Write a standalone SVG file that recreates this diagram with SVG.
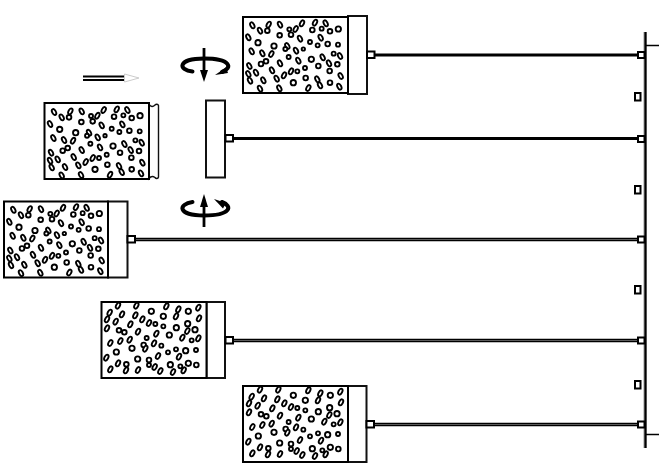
<svg xmlns="http://www.w3.org/2000/svg" width="659" height="472" viewBox="0 0 659 472">
<style>
.box{fill:#fff;stroke:#000;stroke-width:2}
.cap{fill:#fff;stroke:#111;stroke-width:2}
.sq{fill:#fff;stroke:#000;stroke-width:2}
.rod{stroke:#000;stroke-width:3.2;fill:none}
.rod2{stroke:#000;stroke-width:3.4;fill:none}
.rodc{stroke:#999;stroke-width:.6;fill:none}
.thin{stroke:#000;stroke-width:1.5;fill:none}
.pt{fill:#fff;stroke:#000;stroke-width:5.600}
.rot{fill:none;stroke:#000;stroke-width:4;stroke-linecap:round}
</style>
<defs>
<ellipse id="e" class="pt" rx="5.500" ry="9.500" transform="rotate(-28)"/>
<ellipse id="f" class="pt" rx="5.500" ry="9.500" transform="rotate(28)"/>
<g id="pa" transform="scale(.33333)">
<use href="#e" x="757" y="76"/><use href="#e" x="780" y="92"/><circle class="pt" cx="802" cy="92" r="7"/><use href="#f" x="806" y="74"/><use href="#e" x="840" y="74"/><circle class="pt" cx="868" cy="88" r="6"/><circle class="pt" cx="873" cy="104" r="7"/><use href="#f" x="887" y="87"/><use href="#f" x="906" y="70"/><use href="#f" x="945" y="68"/><use href="#e" x="977" y="70"/><circle class="pt" cx="937" cy="90" r="7"/><circle class="pt" cx="965" cy="86" r="6"/><circle class="pt" cx="990" cy="94" r="7"/><circle class="pt" cx="1015" cy="87" r="8"/><circle class="pt" cx="839" cy="106" r="7"/><use href="#e" x="745" y="112"/><circle class="pt" cx="774" cy="128" r="8"/><use href="#e" x="900" y="116"/><use href="#e" x="962" y="113"/><circle class="pt" cx="930" cy="126" r="6"/><circle class="pt" cx="953" cy="136" r="6"/><circle class="pt" cx="983" cy="132" r="7"/><circle class="pt" cx="1014" cy="134" r="6"/><circle class="pt" cx="822" cy="138" r="8"/><use href="#e" x="862" y="138"/><circle class="pt" cx="856" cy="147" r="6"/><use href="#e" x="888" y="152"/><circle class="pt" cx="910" cy="147" r="5"/><use href="#e" x="755" y="154"/><use href="#e" x="787" y="160"/><use href="#f" x="814" y="162"/><circle class="pt" cx="866" cy="171" r="6"/><use href="#e" x="895" y="182"/><circle class="pt" cx="934" cy="178" r="8"/><use href="#e" x="968" y="172"/><use href="#e" x="987" y="190"/><circle class="pt" cx="1001" cy="161" r="6"/><use href="#e" x="1020" y="168"/><circle class="pt" cx="1012" cy="193" r="7"/><circle class="pt" cx="798" cy="184" r="7"/><circle class="pt" cx="783" cy="192" r="7"/><use href="#e" x="840" y="190"/><circle class="pt" cx="955" cy="198" r="7"/><use href="#e" x="748" y="198"/><circle class="pt" cx="915" cy="204" r="6"/><use href="#e" x="816" y="211"/><use href="#e" x="768" y="218"/><use href="#e" x="745" y="222"/><use href="#e" x="750" y="242"/><use href="#e" x="790" y="241"/><use href="#e" x="830" y="236"/><use href="#f" x="852" y="226"/><use href="#f" x="873" y="214"/><circle class="pt" cx="892" cy="214" r="6"/><circle class="pt" cx="989" cy="213" r="7"/><use href="#e" x="1022" y="228"/><circle class="pt" cx="917" cy="234" r="7"/><use href="#e" x="952" y="238"/><use href="#e" x="960" y="256"/><circle class="pt" cx="990" cy="248" r="7"/><circle class="pt" cx="880" cy="248" r="8"/><use href="#e" x="1018" y="260"/><use href="#f" x="925" y="264"/><use href="#e" x="780" y="266"/><use href="#e" x="838" y="265"/>
</g>
<g id="pb" transform="translate(235,375) scale(.33333)">
<use href="#f" x="75" y="44"/><use href="#f" x="130" y="44"/><use href="#f" x="50" y="65"/><use href="#f" x="42" y="85"/><use href="#f" x="68" y="92"/><use href="#f" x="87" y="70"/><use href="#f" x="42" y="112"/><circle class="pt" cx="78" cy="118" r="7"/><circle class="pt" cx="94" cy="124" r="7"/><use href="#f" x="112" y="100"/><use href="#f" x="127" y="73"/><use href="#f" x="148" y="85"/><use href="#f" x="168" y="96"/><circle class="pt" cx="187" cy="99" r="6"/><circle class="pt" cx="175" cy="61" r="8"/><circle class="pt" cx="211" cy="76" r="8"/><use href="#f" x="220" y="46"/><use href="#f" x="256" y="55"/><use href="#f" x="249" y="76"/><circle class="pt" cx="286" cy="61" r="8"/><use href="#f" x="316" y="50"/><use href="#f" x="318" y="82"/><circle class="pt" cx="284" cy="98" r="8"/><circle class="pt" cx="211" cy="106" r="6"/><circle class="pt" cx="250" cy="110" r="8"/><use href="#f" x="283" y="120"/><circle class="pt" cx="306" cy="116" r="8"/><use href="#f" x="268" y="140"/><circle class="pt" cx="229" cy="132" r="8"/><use href="#f" x="190" y="128"/><use href="#f" x="135" y="122"/><use href="#f" x="110" y="146"/><use href="#f" x="82" y="150"/><use href="#f" x="52" y="156"/><circle class="pt" cx="161" cy="141" r="6"/><use href="#f" x="183" y="157"/><circle class="pt" cx="205" cy="164" r="6"/><circle class="pt" cx="152" cy="162" r="7"/><use href="#f" x="157" y="173"/><circle class="pt" cx="117" cy="172" r="8"/><circle class="pt" cx="296" cy="148" r="6"/><use href="#f" x="316" y="142"/><circle class="pt" cx="278" cy="179" r="8"/><circle class="pt" cx="249" cy="175" r="6"/><circle class="pt" cx="225" cy="184" r="6"/><circle class="pt" cx="309" cy="177" r="6"/><use href="#f" x="195" y="195"/><use href="#f" x="258" y="197"/><circle class="pt" cx="70" cy="183" r="8"/><use href="#f" x="40" y="200"/><circle class="pt" cx="134" cy="204" r="8"/><circle class="pt" cx="168" cy="207" r="7"/><circle class="pt" cx="168" cy="222" r="6"/><use href="#f" x="185" y="228"/><use href="#f" x="75" y="217"/><use href="#f" x="52" y="235"/><circle class="pt" cx="100" cy="220" r="7"/><use href="#f" x="99" y="238"/><use href="#f" x="135" y="237"/><use href="#f" x="202" y="240"/><circle class="pt" cx="232" cy="221" r="8"/><circle class="pt" cx="262" cy="226" r="6"/><circle class="pt" cx="286" cy="217" r="8"/><circle class="pt" cx="310" cy="222" r="7"/><use href="#f" x="240" y="243"/><use href="#f" x="272" y="238"/>
</g>
</defs>

<g id="connectors">
<line class="rod" x1="374" y1="55" x2="640" y2="55"/>
<line class="rod" x1="233" y1="138.500" x2="640" y2="138.500"/>
<line class="rod2" x1="135" y1="239.500" x2="640" y2="239.500"/><line class="rodc" x1="135" y1="239.500" x2="640" y2="239.500"/>
<line class="rod2" x1="232" y1="340.500" x2="640" y2="340.500"/><line class="rodc" x1="232" y1="340.500" x2="640" y2="340.500"/>
<line class="rod2" x1="374" y1="424.500" x2="640" y2="424.500"/><line class="rodc" x1="374" y1="424.500" x2="640" y2="424.500"/>
</g>

<g id="rail">
<line x1="645" y1="32" x2="645" y2="448" stroke="#aaa" stroke-width="3.2"/>
<line x1="645.500" y1="32" x2="645.500" y2="448" stroke="#000" stroke-width="2.200"/>
<line class="thin" x1="645" y1="45.500" x2="659" y2="45.500"/>
<line class="thin" x1="645" y1="434.500" x2="659" y2="434.500"/>
<rect class="sq" x="635" y="93" width="5.500" height="7.500"/>
<rect class="sq" x="635" y="186" width="5.500" height="7.500"/>
<rect class="sq" x="635" y="286" width="5.500" height="7.500"/>
<rect class="sq" x="635" y="381" width="5.500" height="7.500"/>
<rect class="sq" x="638" y="52" width="6.500" height="6"/>
<rect class="sq" x="638" y="136" width="6.500" height="6"/>
<rect class="sq" x="638" y="236.500" width="6.500" height="6"/>
<rect class="sq" x="638" y="337.500" width="6.500" height="6"/>
<rect class="sq" x="638" y="421.500" width="6.500" height="6"/>
</g>

<g id="node-top">
<rect class="cap" x="348" y="16" width="19" height="78"/>
<rect class="box" x="243" y="17" width="105" height="76"/>
<use href="#pa"/>
<rect class="sq" x="367" y="51.500" width="7.500" height="6.500"/>
</g>

<g id="node-open">
<path class="cap" d="M149,104.500 C151,107 153,107 155,105 C156,104 158,104 158.500,105.500 V177 C158,179 156,179 155,177.500 C153,176 151,176 149,178.500 Z" style="stroke-width:1.4"/>
<rect class="box" x="44.500" y="103" width="104.500" height="76"/>
<use href="#pa" transform="translate(-198.300,86.700)"/>
</g>

<g id="node-plate">
<rect class="cap" x="206" y="100.500" width="19" height="77"/>
<rect class="sq" x="225.500" y="135" width="7.500" height="6.500"/>
</g>

<g id="node-third">
<rect class="cap" x="108" y="201.500" width="19.500" height="76"/>
<rect class="box" x="4" y="201.500" width="104" height="76"/>
<use href="#pa" transform="translate(-239,184.500)"/>
<rect class="sq" x="127.500" y="236" width="7.500" height="6.500"/>
</g>

<g id="node-fourth">
<rect class="cap" x="206.500" y="302" width="18.500" height="76"/>
<rect class="box" x="101.500" y="302" width="105" height="76"/>
<use href="#pb" transform="translate(-142,-84)"/>
<rect class="sq" x="225.500" y="337" width="7.500" height="6.500"/>
</g>

<g id="node-bottom">
<rect class="cap" x="348" y="386" width="18.500" height="76"/>
<rect class="box" x="243" y="386" width="105" height="76"/>
<use href="#pb"/>
<rect class="sq" x="366.500" y="421" width="7.500" height="6.500"/>
</g>

<g id="rotation-top">
<path class="rot" d="M192.500,71.500 C178,70 177,58.500 204,58.500 C231,58.500 233,68 222,72"/>
<path d="M215,75 L226,67.500 L228,73 Z" fill="#000"/>
<line x1="204" y1="48" x2="204" y2="76" stroke="#000" stroke-width="2.800"/>
<path d="M200,70 L204,82 L208,70 Z" fill="#000"/>
</g>
<g id="rotation-bottom">
<path class="rot" d="M192.500,202 C178,204 177,215.500 204,215.500 C231,215.500 233,206 222,202"/>
<path d="M214,199 L226,203 L223,208.500 Z" fill="#000"/>
<line x1="204" y1="200" x2="204" y2="227" stroke="#000" stroke-width="2.800"/>
<path d="M200,207 L204,194 L208,207 Z" fill="#000"/>
</g>

<g id="motion-arrow">
<line x1="83" y1="76.500" x2="124" y2="76.500" stroke="#000" stroke-width="1.800"/>
<line x1="83" y1="80" x2="124" y2="80" stroke="#000" stroke-width="1.800"/>
<path d="M124.500,74 L139,78 L124.500,82 Z" fill="#fff" stroke="#ccc" stroke-width="1"/>
</g>
</svg>
